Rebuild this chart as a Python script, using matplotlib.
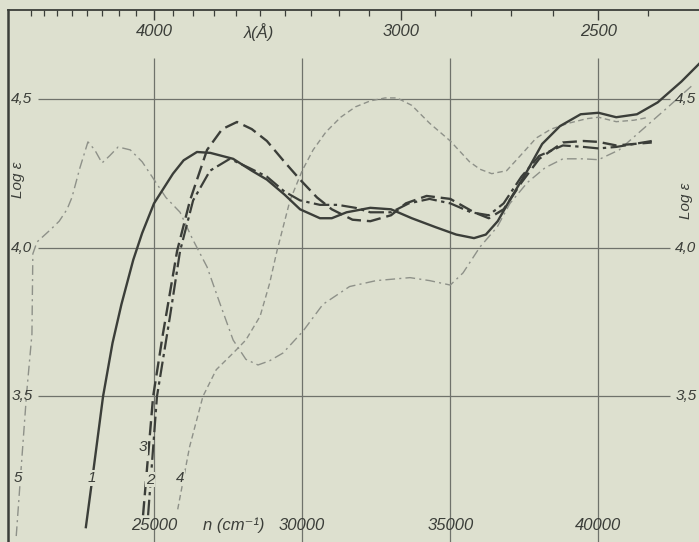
import numpy as np
import matplotlib
matplotlib.use('Agg')
import matplotlib.pyplot as plt

# absorption curves: wavenumber n (cm-1) and log eps
n1 = [22700, 22940, 23280, 23600, 23900, 24300, 24600, 25000, 25640, 26000, 26450, 26900,
      27670, 28300, 28810, 29400, 29930, 30600, 31000, 31500, 32300, 33000, 33700, 34500,
      35200, 35800, 36200, 36600, 37000, 37600, 38100, 38700, 39400, 40000, 40600, 41300,
      42000, 42800, 43400]
l1 = [3.06, 3.24, 3.50, 3.68, 3.81, 3.96, 4.05, 4.15, 4.25, 4.295, 4.323, 4.32,
      4.30, 4.26, 4.23, 4.18, 4.13, 4.10, 4.10, 4.12, 4.135, 4.13, 4.10, 4.07,
      4.045, 4.033, 4.045, 4.09, 4.16, 4.26, 4.35, 4.41, 4.45, 4.455, 4.44, 4.45,
      4.49, 4.56, 4.62]

n2 = [24800, 25100, 25540, 25880, 26320, 26890, 27560, 28200, 28810, 29400, 29930, 30600,
      31200, 31800, 32300, 33000, 33600, 34300, 35000, 35700, 36300, 36800, 37400, 38000,
      38800, 39500, 40000, 40600, 41200, 41800]
l2 = [3.10, 3.50, 3.77, 3.99, 4.16, 4.26, 4.30, 4.27, 4.24, 4.19, 4.16, 4.145,
      4.145, 4.135, 4.12, 4.12, 4.15, 4.165, 4.15, 4.12, 4.11, 4.15, 4.24, 4.31,
      4.345, 4.34, 4.335, 4.34, 4.35, 4.36]

n3 = [24630, 24970, 25300, 25780, 26215, 26790, 27300, 27800, 28300, 28810, 29400, 29930,
      30500, 31000, 31700, 32300, 33000, 33500, 34200, 35000, 35800, 36300, 36800, 37400,
      38000, 38800, 39500, 40000, 40600, 41200, 41800]
l3 = [3.10, 3.50, 3.71, 3.99, 4.16, 4.33, 4.40, 4.424, 4.40, 4.36, 4.29, 4.23,
      4.17, 4.13, 4.095, 4.09, 4.11, 4.15, 4.175, 4.165, 4.12, 4.10, 4.13, 4.22,
      4.30, 4.355, 4.36, 4.357, 4.345, 4.35, 4.355]

n4 = [25800, 26200, 26650, 27100, 27670, 28100, 28580, 28900, 29150, 29590, 30000, 30370,
      30800, 31300, 31800, 32300, 32800, 33200, 33700, 34300, 35000, 35650, 36000, 36400,
      36900, 37450, 37900, 38400, 39000, 39600, 40000, 40600, 41200, 41700]
l4 = [3.12, 3.33, 3.50, 3.59, 3.646, 3.69, 3.77, 3.88, 3.99, 4.16, 4.26, 4.33,
      4.39, 4.44, 4.475, 4.495, 4.505, 4.505, 4.48, 4.42, 4.36, 4.29, 4.265, 4.25,
      4.26, 4.32, 4.37, 4.40, 4.42, 4.435, 4.44, 4.425, 4.43, 4.44]

n5 = [20350, 20480, 20700, 20880, 20910, 21050, 21490, 21800, 22065, 22230, 22500, 22770,
      23000, 23245, 23500, 23790, 24200, 24600, 25000, 25400, 25880, 26300, 26790, 27200,
      27670, 28100, 28510, 28900, 29350, 30030, 30700, 31600, 32500, 33640, 34300, 35000,
      35430, 36000, 36580, 37015, 37600, 38200, 38800, 39500, 40000, 40700, 41500, 42300,
      43200]
l5 = [3.03, 3.21, 3.51, 3.71, 3.98, 4.02, 4.06, 4.09, 4.13, 4.17, 4.27, 4.357,
      4.33, 4.286, 4.31, 4.34, 4.33, 4.29, 4.23, 4.17, 4.12, 4.03, 3.936, 3.82,
      3.69, 3.625, 3.606, 3.62, 3.646, 3.72, 3.81, 3.87, 3.89, 3.90, 3.89, 3.875,
      3.916, 4.003, 4.07, 4.15, 4.22, 4.27, 4.30, 4.30, 4.297, 4.33, 4.40, 4.47,
      4.55]

# curve number labels (n, log eps)
curve_names = ['1', '2', '3', '4', '5']
label_n = [22900, 24865, 24630, 25880, 20410]
label_l = [3.225, 3.22, 3.33, 3.225, 3.225]

grid_n = [25000, 30000, 35000, 40000]
grid_l = [3.5, 4.0, 4.5]
grid_l_text = ['3,5', '4,0', '4,5']
lam_major = [4000, 3000, 2500]
lam_minor = list(range(2300, 4900, 100))

paper = '#dde0cf'
ink = '#3b3e39'
light = '#8e9189'
gridc = '#6f726b'
fam = ['Liberation Sans', 'DejaVu Sans']

fig = plt.figure(figsize=(6.99, 5.42), dpi=100, facecolor=paper)
ax = fig.add_axes([8 / 699, 0, 1 - 8 / 699, 1 - 10 / 542])
ax.set_facecolor(paper)
ax.set_xlim(20072, 43394)
ax.set_ylim(3.010, 4.801)

for s in ['right', 'bottom']:
    ax.spines[s].set_visible(False)
ax.spines['left'].set_color(ink)
ax.spines['left'].set_linewidth(1.8)
ax.spines['top'].set_color(ink)
ax.spines['top'].set_linewidth(1.3)
ax.set_xticks([])
ax.set_yticks([])

# grid
ax.hlines(grid_l, 21085, 42415, color=gridc, lw=0.9, zorder=1)
ax.vlines(grid_n, 3.0, 4.64, color=gridc, lw=0.9, zorder=1)

# curves
ax.plot(n5, l5, color=light, lw=1.0, dashes=(7, 3, 1.5, 3), zorder=2)
ax.plot(n4, l4, color=light, lw=1.0, dashes=(4, 2.5), zorder=2)
ax.plot(n1, l1, color=ink, lw=1.7, solid_joinstyle='round', zorder=3)
ax.plot(n2, l2, color=ink, lw=1.6, dashes=(7, 2, 1.5, 2), zorder=3)
ax.plot(n3, l3, color=ink, lw=1.7, dashes=(6, 2.5), zorder=3)

# curve numbers sit in small gaps of their lines
for name, x, y in zip(curve_names, label_n, label_l):
    ax.text(x, y, name, fontsize=11, style='italic', family=fam, color=ink,
            ha='center', va='center', zorder=4,
            bbox=dict(facecolor=paper, edgecolor='none', pad=0.6))

# top wavelength axis
sec = ax.secondary_xaxis('top', functions=(lambda n: 1e8 / np.maximum(n, 1.0),
                                           lambda l: 1e8 / np.maximum(l, 1.0)))
sec.set_xticks(lam_major)
sec.set_xticks(lam_minor, minor=True)
sec.tick_params(which='major', direction='in', length=7, width=1.0, color=ink, labeltop=False)
sec.tick_params(which='minor', direction='in', length=4, width=0.9, color=ink)
sec.spines['top'].set_visible(False)

for lam in lam_major:
    ax.text(1e8 / lam, 4.727, str(lam), fontsize=12, style='italic', family=fam,
            color=ink, ha='center', va='center')
ax.text(28540, 4.727, 'λ(Å)', fontsize=12, style='italic', family=fam, color=ink,
        ha='center', va='center')

# bottom wavenumber labels
for v in grid_n:
    ax.text(v, 3.067, str(v), fontsize=12, style='italic', family=fam, color=ink,
            ha='center', va='center')
ax.text(27700, 3.067, 'n (cm⁻¹)', fontsize=12, style='italic', family=fam, color=ink,
        ha='center', va='center')

# log eps labels on both sides
for v, t in zip(grid_l, grid_l_text):
    ax.text(20545, v, t, fontsize=11, style='italic', family=fam, color=ink,
            ha='center', va='center')
    ax.text(42950, v, t, fontsize=11, style='italic', family=fam, color=ink,
            ha='center', va='center')
ax.text(20420, 4.23, 'Log ε', fontsize=11, style='italic', family=fam, color=ink,
        rotation=90, ha='center', va='center')
ax.text(42950, 4.16, 'Log ε', fontsize=11, style='italic', family=fam, color=ink,
        rotation=90, ha='center', va='center')

fig.savefig('out.png', dpi=100, facecolor=paper)
